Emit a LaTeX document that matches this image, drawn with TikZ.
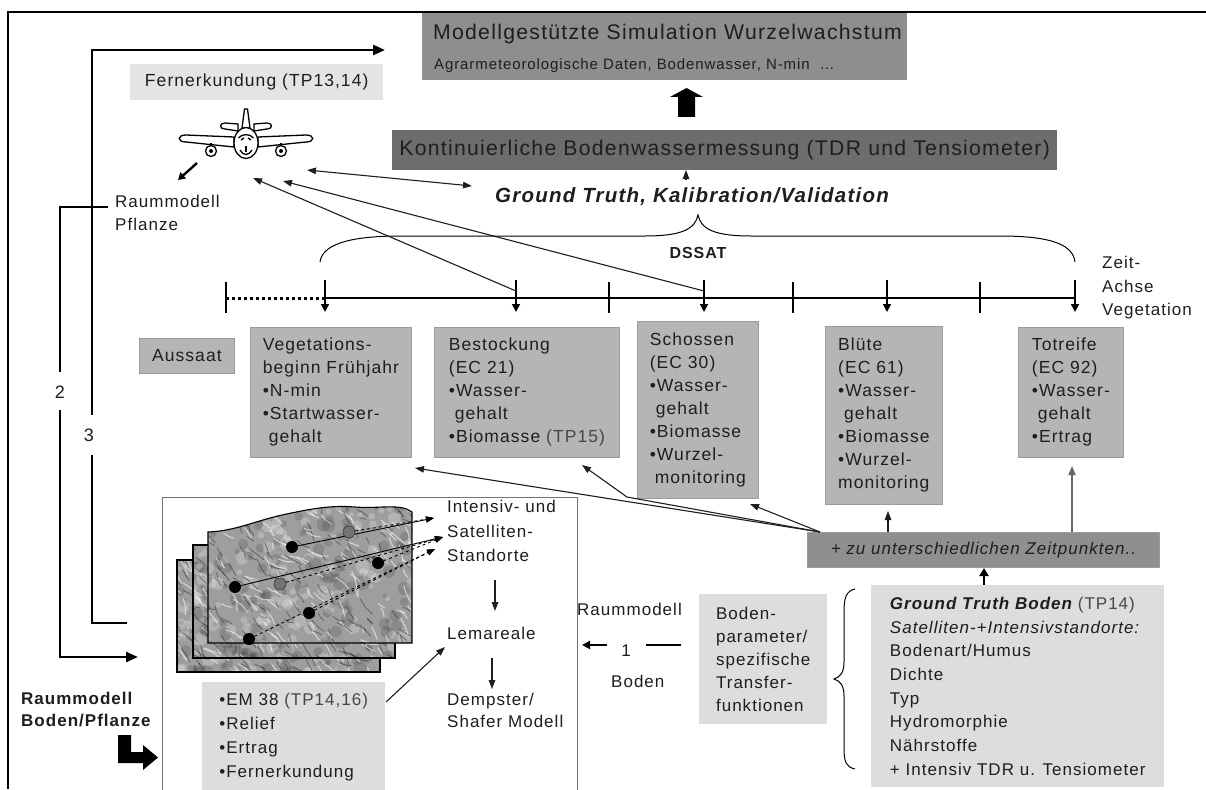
\documentclass[tikz,border=0pt]{standalone}
\usepackage{fontspec}
\setmainfont{Liberation Sans}[LetterSpace=6]
\usetikzlibrary{arrows.meta}

\definecolor{inkc}{HTML}{1E1E1E}
\definecolor{topgray}{HTML}{8E8E8E}
\definecolor{kongray}{HTML}{6D6D6D}
\definecolor{stagegray}{HTML}{B5B5B5}
\definecolor{stageedge}{HTML}{9C9C9C}
\definecolor{zugray}{HTML}{8F8F8F}
\definecolor{lightbox}{HTML}{DDDDDD}
\definecolor{fernbox}{HTML}{E4E4E4}
\definecolor{mapgray}{HTML}{9E9E9E}
\definecolor{tpgray}{HTML}{474747}

\newcommand\fsStage{\fontsize{17.5}{23}\selectfont}
\newcommand\fsTitle{\fontsize{21.2}{25}\selectfont}
\newcommand\fsSub{\fontsize{15}{18}\selectfont}

% soft light and dark patches with short creases, imitating a shaded relief
\newcommand\reliefstrokes[4]{%
  \foreach \k in {1,...,120}{%
    \pgfmathsetmacro\rx{#1+rnd*#3}%
    \pgfmathsetmacro\ry{#2+rnd*#4}%
    \pgfmathsetmacro\rr{2+rnd*5}%
    \fill[white, opacity=0.22] (\rx,\ry) circle (\rr);
    \pgfmathsetmacro\sx{#1+rnd*#3}%
    \pgfmathsetmacro\sy{#2+rnd*#4}%
    \pgfmathsetmacro\sr{2+rnd*5}%
    \fill[black, opacity=0.13] (\sx,\sy) circle (\sr);
  }%
  \foreach \k in {1,...,110}{%
    \pgfmathsetmacro\rx{#1+rnd*#3}%
    \pgfmathsetmacro\ry{#2+rnd*#4}%
    \pgfmathsetmacro\ra{15+rnd*60}%
    \pgfmathsetmacro\rl{6+rnd*14}%
    \pgfmathsetmacro\rb{\ra+rnd*50-25}%
    \draw[white, opacity=0.55, line width=1.1pt] (\rx,\ry) -- ++(\ra:\rl*0.5) -- ++(\rb:\rl*0.5);
    \pgfmathsetmacro\sx{#1+rnd*#3}%
    \pgfmathsetmacro\sy{#2+rnd*#4}%
    \pgfmathsetmacro\sa{15+rnd*60}%
    \pgfmathsetmacro\sl{6+rnd*14}%
    \pgfmathsetmacro\sb{\sa+rnd*50-25}%
    \draw[black!85, opacity=0.45, line width=0.9pt] (\sx,\sy) -- ++(\sa:\sl*0.5) -- ++(\sb:\sl*0.5);
  }}

\tikzset{
  stagebox/.style={fill=stagegray, draw=stageedge, line width=0.8pt, anchor=north west,
    inner ysep=0pt, inner xsep=8pt, align=left, font=\fsStage, text=inkc},
  lightnode/.style={fill=lightbox, draw=none, anchor=north west, inner ysep=0pt,
    inner xsep=10pt, align=left, font=\fsStage, text=inkc},
  plain/.style={inner sep=0pt, font=\fsStage, text=inkc, align=left},
  tarr/.style={line width=1.1pt, draw=inkc, -{Triangle[length=9pt,width=6.5pt]}},
  tarrboth/.style={line width=1.1pt, draw=inkc,
    {Triangle[length=9pt,width=6.5pt]}-{Triangle[length=9pt,width=6.5pt]}},
  route/.style={line width=2.6pt},
  routearr/.style={line width=2.6pt, -{Triangle[length=12pt,width=10pt]}},
  ticktm/.style={line width=1.8pt},
  tickarr/.style={line width=1.6pt, -{Triangle[length=8pt,width=8pt]}},
  mapedge/.style={draw=black, line width=1.1pt},
  siteline/.style={line width=0.9pt, -{Triangle[length=8pt,width=6pt]}},
}

\begin{document}
\begin{tikzpicture}[x=1pt,y=-1pt]
\useasboundingbox (0,0) rectangle (1206,789);
\fill[white] (0,0) rectangle (1206,789);
\pgfmathsetseed{12}

% outer frame
\draw[line width=2pt] (1206,12) -- (8,12) -- (8,789);

% ---------- top: simulation and continuous measurement ----------
\node[fill=topgray, anchor=north west, minimum width=485pt, minimum height=67pt, inner sep=0pt] (sim) at (422,13) {};
\node[plain, anchor=base west, font=\fsTitle] (simtitle) at (433,40) {Modellgestützte Simulation Wurzelwachstum};
\node[plain, anchor=base west, font=\fsSub] (simsub) at (434,70) {Agrarmeteorologische Daten, Bodenwasser, N-min \ \dots};

\node[fill=kongray, anchor=north west, minimum width=665pt, minimum height=40pt, inner sep=0pt,
      font=\fsTitle, text=inkc] (kont) at (392,130) {Kontinuierliche Bodenwassermessung (TDR und Tensiometer)};

% block arrow from measurement to simulation
\fill[black] (678,117) -- (678,97) -- (670,97) -- (686.5,88) -- (703,97) -- (695,97) -- (695,117) -- cycle;

\node[plain, font=\fontsize{20.5}{23}\selectfont\bfseries\itshape, anchor=center] (gt) at (692,197)
  {Ground Truth, Kalibration/Validation};
\coordinate (gtup) at (686,179);
\coordinate (kontdown) at (686,170);
\draw[tarr] (gtup) -- (kontdown);

% ---------- remote sensing ----------
\node[fill=fernbox, anchor=north west, minimum width=253pt, minimum height=36pt, inner sep=0pt,
      font=\fontsize{17.5}{20}\selectfont, text=inkc] (fern) at (130,64) {Fernerkundung (TP13,14)};

% airplane, front view
\begin{scope}[line width=1.3pt, draw=black, fill=white]
  \filldraw (234,137) -- (186,135) .. controls (177,135) and (177,142) .. (186,142) -- (234,147) -- cycle;
  \filldraw (258,137) -- (306,135) .. controls (315,135) and (315,142) .. (306,142) -- (258,147) -- cycle;
  \filldraw (238,124) -- (225,123) .. controls (219,123) and (219,129) .. (225,129) -- (238,131) -- cycle;
  \filldraw (254,124) -- (267,123) .. controls (273,123) and (273,129) .. (267,129) -- (254,131) -- cycle;
  \filldraw (242,128) -- (244.5,109) -- (247.5,109) -- (250,128) -- cycle;
  \draw (211,143) -- (211,147); \draw (281,143) -- (281,147);
  \filldraw (211,151) circle (5.5);
  \filldraw (281,151) circle (5.5);
  \fill[black] (211,151) circle (2);
  \fill[black] (281,151) circle (2);
  \filldraw (246,143) ellipse (12 and 15.5);
  \draw (238.5,138) .. controls (242,133.5) and (250,133.5) .. (253.5,138);
  \draw (241,140) -- (244,138); \draw (251,140) -- (248,138);
  \draw (240,150) .. controls (243,156) and (249,156) .. (252,150);
  \draw (246,146) -- (246,152);
\end{scope}
\coordinate (plane) at (246,143);
\coordinate (plA) at (307,170);
\coordinate (plB) at (283,181);
\coordinate (plC) at (253,178);
\coordinate (gtl) at (472,186);

\node[plain, anchor=north west, font=\fontsize{17}{23}\selectfont] (rpfl) at (115,195) {Raummodell\\Pflanze};
\coordinate (plout) at (197,163);
\coordinate (rpflin) at (178,180);
\draw[line width=2.4pt, -{Triangle[length=7pt,width=8pt]}] (plout) -- (rpflin);

\draw[tarrboth] (plA) -- (gtl);

% ---------- DSSAT brace ----------
\draw[line width=1pt] (320,262) .. controls (322,246) and (345,236) .. (400,236) -- (645,236)
  .. controls (682,236) and (695,229) .. (698,215)
  .. controls (701,229) and (714,236) .. (751,236) -- (1000,236)
  .. controls (1055,236) and (1073,246) .. (1075,262);
\node[plain, font=\fontsize{16}{19}\selectfont\bfseries] (dssat) at (698,253) {DSSAT};

% ---------- time axis ----------
\draw[line width=3pt, dash pattern=on 3pt off 3pt] (226,298) -- (325,298);
\draw[line width=2.6pt] (325,298) -- (1075,298);
\foreach \tx/\tn in {226/ta,609/tb,793/tc,980/td}{
  \coordinate (\tn1) at (\tx,282); \coordinate (\tn2) at (\tx,313);
  \draw[ticktm] (\tn1) -- (\tn2);}
\foreach \tx/\tn in {325/sa,516/sb,704/sc,887/sd,1075/se}{
  \coordinate (\tn1) at (\tx,280); \coordinate (\tn2) at (\tx,312);
  \draw[tickarr] (\tn1) -- (\tn2);}
\node[plain, anchor=north west, font=\fontsize{17}{23.5}\selectfont] (zeit) at (1102,256) {Zeit-\\Achse\\Vegetation};

% links from the axis to the airplane
\draw[tarr] (704,291) -- (plB);
\draw[tarr] (516,291) -- (plC);

% ---------- growth stages ----------
\node[stagebox, align=center, minimum width=95pt, minimum height=35pt] (aussaat) at (139,338) {Aussaat};
\node[stagebox, minimum width=161pt, minimum height=130pt] (veg) at (250,327)
  {Vegetations-\\beginn Frühjahr\\•N-min\\•Startwasser-\\\hspace*{6pt}gehalt};
\node[stagebox, minimum width=185pt, minimum height=130pt] (best) at (434,327)
  {Bestockung\\(EC 21)\\•Wasser-\\\hspace*{6pt}gehalt\\•Biomasse {\color{tpgray}(TP15)}};
\node[stagebox, minimum width=121pt, minimum height=177pt, inner xsep=7pt] (schoss) at (637,321)
  {Schossen\\(EC 30)\\•Wasser-\\\hspace*{6pt}gehalt\\•Biomasse\\•Wurzel-\\\hspace*{5pt}monitoring};
\node[stagebox, minimum width=117pt, minimum height=178pt, inner xsep=7pt] (blute) at (825,326)
  {Blüte\\(EC 61)\\•Wasser-\\\hspace*{6pt}gehalt\\•Biomasse\\•Wurzel-\\monitoring};
\node[stagebox, minimum width=105pt, minimum height=130pt] (tot) at (1018,327)
  {Totreife\\(EC 92)\\•Wasser-\\\hspace*{6pt}gehalt\\•Ertrag};

% ---------- measuring at different dates ----------
\node[fill=zugray, draw=stageedge, line width=0.8pt, anchor=north west, minimum width=352pt,
      minimum height=35pt, inner sep=0pt, font=\fontsize{17}{20}\selectfont\itshape, text=inkc] (zu) at (807,532)
  {+ zu unterschiedlichen Zeitpunkten..};
\coordinate (zuA) at (820,532);
\coordinate (vegin) at (415,468);
\coordinate (bestbend) at (627,497);
\coordinate (bestin) at (582,465);
\coordinate (schossin) at (750,504);
\draw[tarr] (zuA) -- (vegin);
\draw[tarr] (zuA) -- (bestbend) -- (bestin);
\draw[tarr] (zuA) -- (schossin);
\coordinate (bl0) at (888,532);
\coordinate (bl1) at (888,511);
\draw[tarr] (bl0) -- (bl1);
\coordinate (to0) at (1072,532);
\coordinate (to1) at (1072,466);
\draw[line width=1.6pt, draw=black!60, -{Triangle[length=9pt,width=7pt]}] (to0) -- (to1);

% ---------- soil ground truth ----------
\node[lightnode, minimum width=293pt, minimum height=202pt, font=\fontsize{17}{23.7}\selectfont, inner xsep=12pt] (gtb) at (871,585)
  {{\bfseries\itshape Ground Truth Boden} {\color{tpgray}(TP14)}\\\textit{Satelliten-+Intensivstandorte:}\\Bodenart/Humus\\Dichte\\Typ\\Hydromorphie\\Nährstoffe\\+ Intensiv TDR u. Tensiometer};
\coordinate (g0) at (984,585);
\coordinate (g1) at (984,568);
\draw[line width=2.4pt, -{Triangle[length=8pt,width=9pt]}] (g0) -- (g1);

\draw[line width=1pt] (855,589) .. controls (846,591) and (844,598) .. (844,612) -- (844,662)
  .. controls (844,673) and (840,677) .. (834,679)
  .. controls (840,681) and (844,685) .. (844,696) -- (844,748)
  .. controls (844,762) and (846,767) .. (855,769);

\node[lightnode, minimum width=128pt, minimum height=130pt, inner xsep=11pt, font=\fontsize{17}{23}\selectfont] (bparam) at (699,594)
  {Boden-\\parameter/\\spezifische\\Transfer-\\funktionen};

\node[plain, anchor=west, font=\fontsize{17}{20}\selectfont] (rboden) at (577,609) {Raummodell};
\node[plain, font=\fontsize{17}{20}\selectfont] (one) at (626,651) {1};
\node[plain, anchor=west, font=\fontsize{17}{20}\selectfont] (bodenlbl) at (611,681) {Boden};
\coordinate (oneA) at (607,645);
\coordinate (oneB) at (582,645);
\draw[line width=2.4pt, -{Triangle[length=8pt,width=8pt]}] (oneA) -- (oneB);
\coordinate (dashA) at (646,645);
\coordinate (dashB) at (681,645);
\draw[line width=2.4pt] (dashA) -- (dashB);

% ---------- spatial model (GIS) ----------
\node[draw=black!55, line width=1.2pt, fill=white, anchor=north west, minimum width=415pt,
      minimum height=310pt, inner sep=0pt] (gis) at (162,497) {};

% three stacked relief layers
\begin{scope}
  \clip (177,560) rectangle (380,672);
  \fill[mapgray] (177,560) rectangle (380,672);
  \reliefstrokes{170}{553}{215}{125}
\end{scope}
\draw[mapedge] (177,560) rectangle (380,672);
\begin{scope}
  \clip (193,545) rectangle (395,658);
  \fill[mapgray] (193,545) rectangle (395,658);
  \reliefstrokes{186}{538}{215}{125}
\end{scope}
\draw[mapedge] (193,545) rectangle (395,658);
\def\frontmap{(208,532) .. controls (235,531) and (255,521) .. (282,515)
   .. controls (310,509) and (330,505) .. (355,507) .. controls (380,509) and (400,503) .. (412,512)
   -- (412,643) -- (208,643) -- cycle}
\begin{scope}
  \clip \frontmap;
  \fill[mapgray] \frontmap;
  \reliefstrokes{200}{500}{220}{150}
\end{scope}
\draw[mapedge] \frontmap;

% sample sites
\coordinate (d1) at (292,547);
\coordinate (d2) at (235,587);
\coordinate (d3) at (378,563);
\coordinate (d4) at (309,613);
\coordinate (d5) at (249,639);
\coordinate (gd1) at (349,532);
\coordinate (gd2) at (280,584);
\coordinate (s1) at (434,518);
\coordinate (s2) at (443,537);
\coordinate (s3) at (435,549);
\draw[siteline] (d1) -- (s1);
\draw[siteline, dashed] (gd1) -- (s1);
\draw[siteline] (d2) -- (s2);
\draw[siteline, dashed] (gd2) -- (s2);
\draw[siteline, dashed] (d3) -- (s2);
\draw[siteline, dashed] (d4) -- (s3);
\draw[siteline, dashed] (d5) -- (s3);
\foreach \d in {d1,d2,d3,d4,d5}{\fill[black] (\d) circle (6);}
\foreach \d in {gd1,gd2}{\fill[black!55] (\d) circle (6); \draw[black!80, line width=0.6pt] (\d) circle (6);}

\node[plain, anchor=north west, font=\fontsize{17}{24.5}\selectfont] (sites) at (447,500) {Intensiv- und\\Satelliten-\\Standorte};
\node[plain, anchor=west, font=\fontsize{17}{20}\selectfont] (lema) at (447,633) {Lemareale};
\node[plain, anchor=north west, font=\fontsize{17}{22}\selectfont] (ds) at (447,693) {Dempster/\\Shafer Modell};
\coordinate (aw1) at (495,580); \coordinate (aw2) at (495,611);
\draw[tarr] (aw1) -- (aw2);
\coordinate (aw3) at (492,658); \coordinate (aw4) at (492,689);
\draw[tarr] (aw3) -- (aw4);

\node[lightnode, minimum width=183pt, minimum height=110pt, inner xsep=11pt, font=\fontsize{17}{24}\selectfont] (em) at (202,682)
  {•EM 38 {\color{tpgray}(TP14,16)}\\•Relief\\•Ertrag\\•Fernerkundung};
\coordinate (emout) at (386,702);
\coordinate (lemain) at (445,647);
\draw[tarr] (emout) -- (lemain);

% ---------- left routes 2 and 3 ----------
\coordinate (r3a) at (127,623);
\coordinate (r3b) at (92,50);
\coordinate (r3c) at (385,50);
\draw[route] (r3a) -- (92,623) -- (92,455);
\draw[routearr] (92,415) -- (r3b) -- (r3c);
\node[plain, font=\fontsize{18}{20}\selectfont] (lbl3) at (89,435) {3};

\coordinate (r2a) at (108,207);
\coordinate (r2c) at (138,657);
\draw[route] (r2a) -- (60,207) -- (60,372);
\draw[routearr] (60,410) -- (60,657) -- (r2c);
\node[plain, font=\fontsize{18}{20}\selectfont] (lbl2) at (60,392) {2};

\node[plain, anchor=north west, font=\fontsize{17}{22}\selectfont\bfseries] (rbp) at (21,692) {Raummodell\\Boden/Pflanze};
\fill[black] (118,735) -- (131,735) -- (131,752) -- (143,752) -- (143,745) -- (158,757.5)
  -- (143,770) -- (143,763) -- (118,763) -- cycle;

\end{tikzpicture}
\end{document}
